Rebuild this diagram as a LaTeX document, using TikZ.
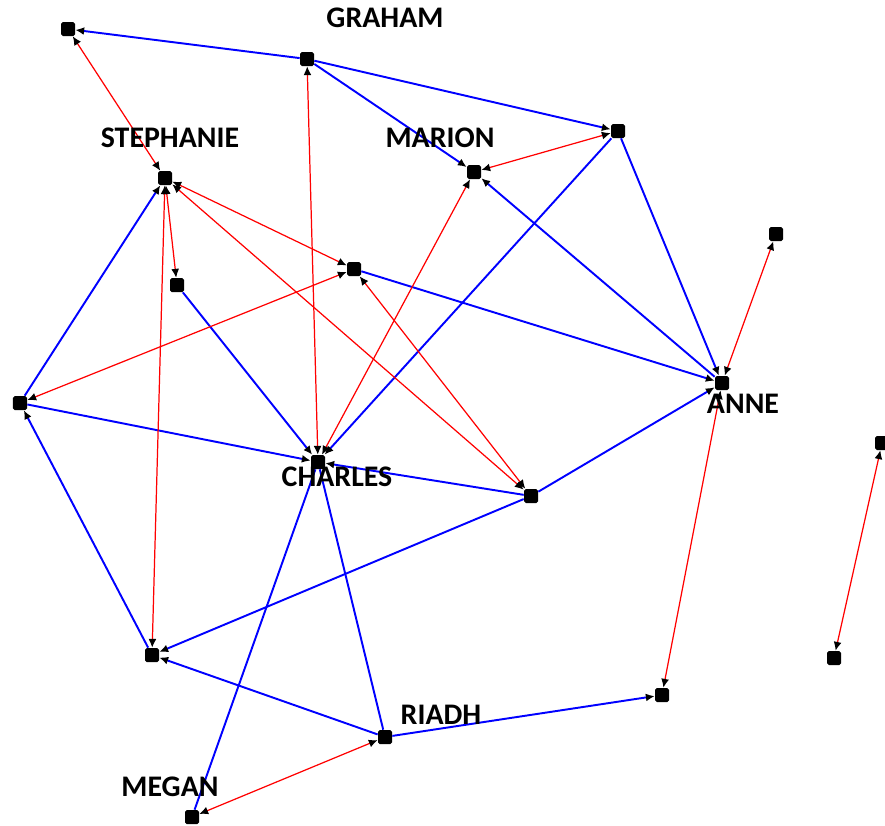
\documentclass[tikz,border=0pt]{standalone}
\usepackage{fontspec}
\setmainfont{Carlito}
\usetikzlibrary{arrows.meta}
\tikzset{
  vert/.style={rectangle,fill=black,minimum size=0.28cm,inner sep=0pt,rounded corners=1pt},
  name lbl/.style={font=\fontsize{17}{20}\selectfont\bfseries,inner sep=0pt},
  tie/.style={draw=blue,line width=1.1pt},
  mutual/.style={draw=red,line width=0.7pt},
  tip/.tip={Latex[length=5pt,width=4.5pt,color=black]}
}
\begin{document}
\begin{tikzpicture}
      \useasboundingbox (0,0) rectangle (17.7,-16.5);
      \draw
        (1.36,-0.58) node[vert] (p1){}
        (6.14,-1.18) node[vert] (graham){}
        (12.36,-2.62) node[vert] (p2){}
        (9.48,-3.44) node[vert] (marion){}
        (3.30,-3.56) node[vert] (stephanie){}
        (3.54,-5.70) node[vert] (p3){}
        (7.08,-5.38) node[vert] (p4){}
        (15.52,-4.68) node[vert] (p5){}
        (14.44,-7.66) node[vert] (anne){}
        (0.40,-8.06) node[vert] (p6){}
        (6.36,-9.24) node[vert] (charles){}
        (10.62,-9.92) node[vert] (p7){}
        (17.64,-8.86) node[vert] (p8){}
        (16.68,-13.16) node[vert] (p9){}
        (3.04,-13.10) node[vert] (p10){}
        (13.24,-13.90) node[vert] (p11){}
        (7.70,-14.74) node[vert] (riadh){}
        (3.84,-16.34) node[vert] (megan){};
      % one-way ties
      \begin{scope}[tie,-tip]
        \draw (graham) to (p1);
        \draw (graham) to (p2);
        \draw (graham) to (marion);
        \draw (p2) to (anne);
        \draw (p2) to (charles);
        \draw (anne) to (marion);
        \draw (p4) to (anne);
        \draw (p7) to (anne);
        \draw (p6) to (stephanie);
        \draw (p6) to (charles);
        \draw (p10) to (p6);
        \draw (p3) to (charles);
        \draw (p7) to (charles);
        \draw (p7) to (p10);
        \draw (riadh) to (p10);
        \draw (riadh) to (p11);
      \end{scope}
      \begin{scope}[tie,-]
        \draw (charles) to (riadh);
        \draw (charles) to (megan);
      \end{scope}
      % mutual ties
      \begin{scope}[mutual,tip-tip]
        \draw (p1) to (stephanie);
        \draw (graham) to (charles);
        \draw (marion) to (p2);
        \draw (charles) to (marion);
        \draw (stephanie) to (p3);
        \draw (stephanie) to (p4);
        \draw (stephanie) to (p7);
        \draw (stephanie) to (p10);
        \draw (p4) to (p7);
        \draw (p4) to (p6);
        \draw (p5) to (anne);
        \draw (anne) to (p11);
        \draw (p8) to (p9);
        \draw (riadh) to (megan);
      \end{scope}
      \node[name lbl] (grahamlbl) at (7.70,-0.36) {GRAHAM};
      \node[name lbl] (stephanielbl) at (3.40,-2.76) {STEPHANIE};
      \node[name lbl] (marionlbl) at (8.80,-2.76) {MARION};
      \node[name lbl] (annelbl) at (14.86,-8.08) {ANNE};
      \node[name lbl] (charleslbl) at (6.74,-9.54) {CHARLES};
      \node[name lbl] (riadhlbl) at (8.82,-14.30) {RIADH};
      \node[name lbl] (meganlbl) at (3.40,-15.74) {MEGAN};
    \end{tikzpicture}
\end{document}
